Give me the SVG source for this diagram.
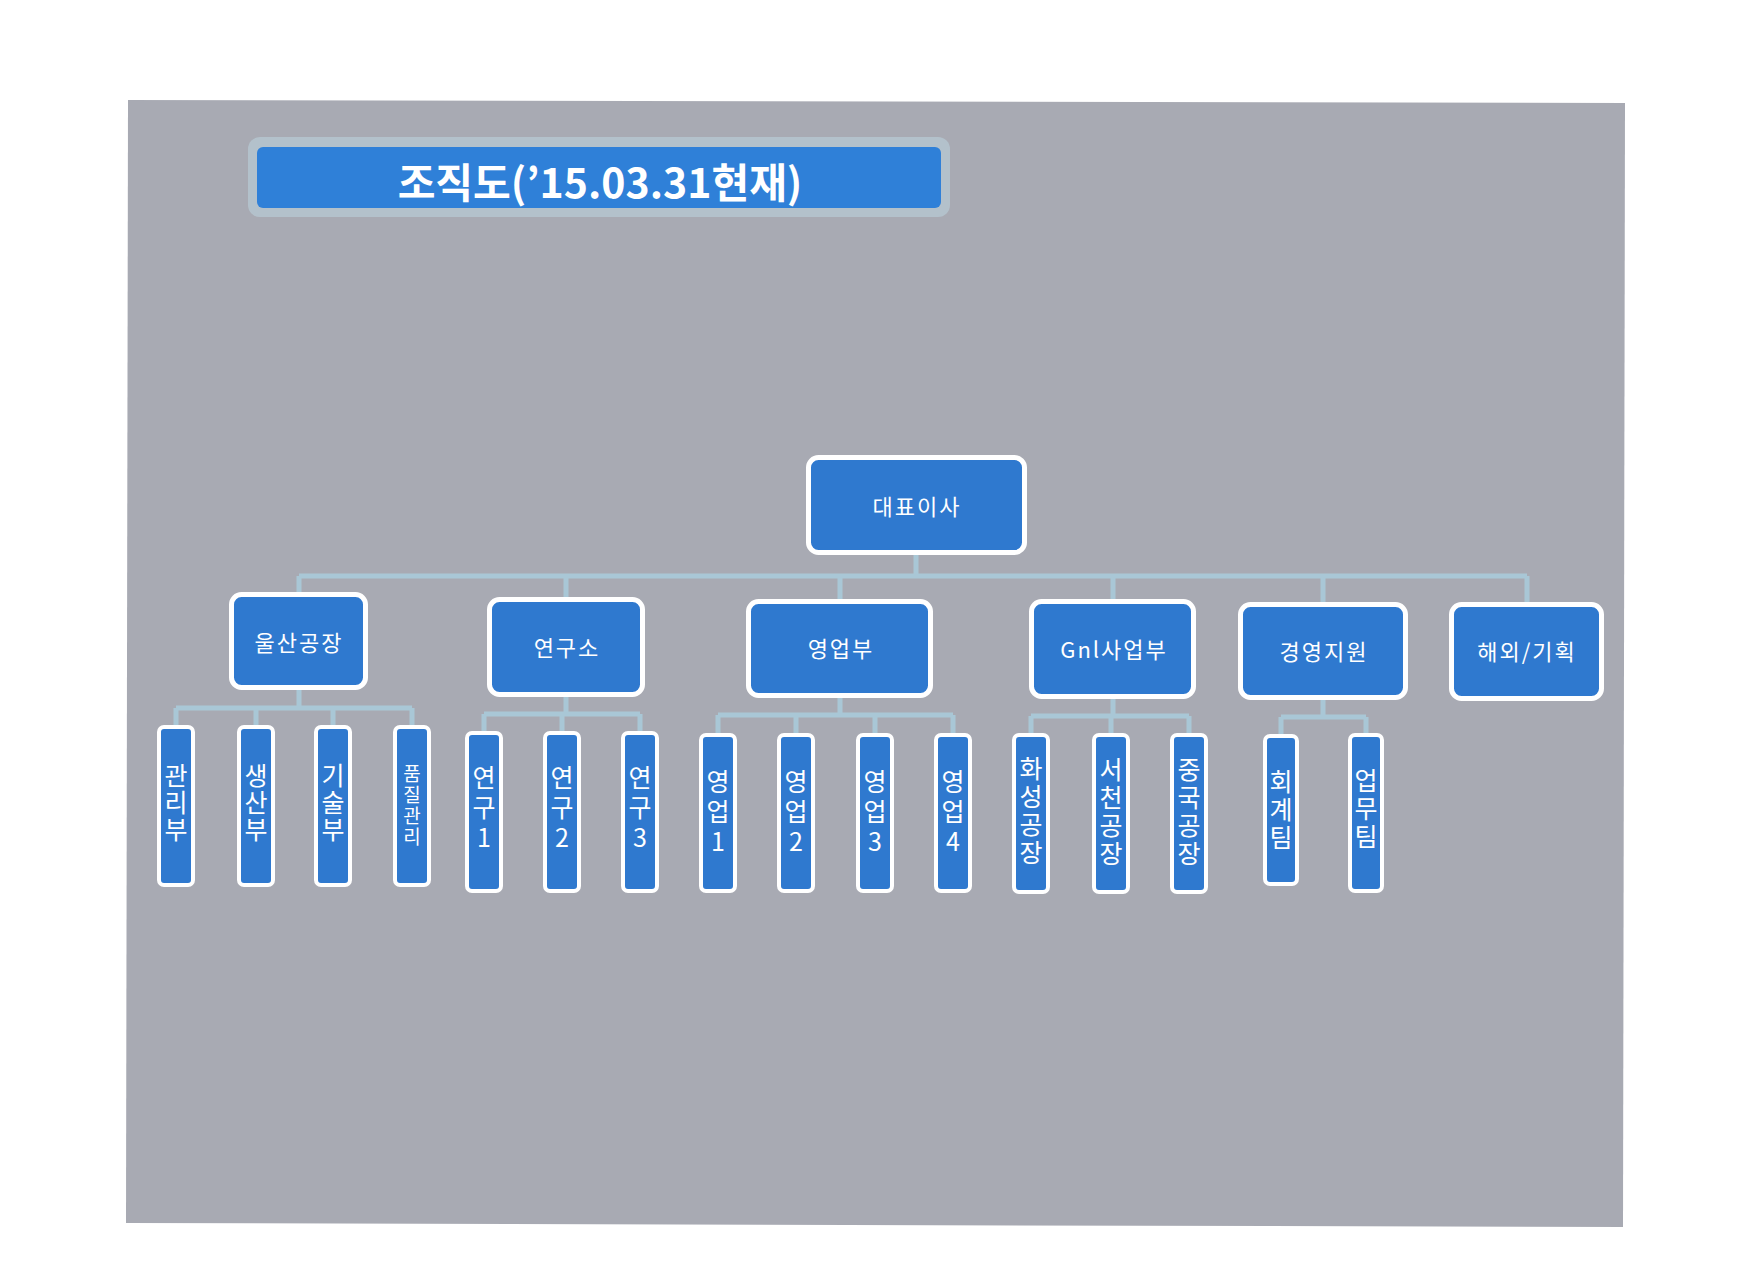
<svg xmlns="http://www.w3.org/2000/svg" width="1753" height="1275" viewBox="0 0 1753 1275">
<style>
.bg{fill:#a8aab3}
.main{fill:#2f79cf;stroke:#ffffff;stroke-width:5}
.sub{fill:#2f79cf;stroke:#ffffff;stroke-width:4}
.lbl{font-family:"Noto Sans CJK KR","Noto Sans",sans-serif;font-size:22px;fill:#ffffff;text-anchor:middle;dominant-baseline:central;letter-spacing:2px}
.vt{font-family:"Noto Sans CJK KR","Noto Sans",sans-serif;font-size:25px;fill:#ffffff;text-anchor:middle;writing-mode:vertical-rl;text-orientation:upright;letter-spacing:2px}
.v3{letter-spacing:3px}
.v4{letter-spacing:5px}
.vs{font-size:19px;letter-spacing:2px}
.conn{fill:none;stroke:#a9c7d6;stroke-width:5}
.title{font-family:"Noto Sans CJK KR","Noto Sans",sans-serif;font-size:41px;font-weight:bold;fill:#ffffff;text-anchor:middle;dominant-baseline:central}
</style>
<rect width="1753" height="1275" fill="#ffffff"/>
<polygon class="bg" points="128,100 1625,103 1623,1227 126,1223"/>
<g id="title">
<rect x="248" y="137" width="702" height="80" rx="12" fill="#b3c1cb"/>
<rect x="257" y="147" width="684" height="61" rx="6" fill="#2f80d8"/>
<text class="title" x="600" y="180">조직도(’15.03.31현재)</text>
</g>
<g id="connectors">
<path class="conn" d="M916 555V576M299 576H1527M299 576V592M566 576V597M840 576V599M1113 576V599M1323 576V602M1527 576V602"/>
<path class="conn" d="M299 690V708M176 708H412M176 708V725M256 708V725M333 708V725M412 708V725"/>
<path class="conn" d="M566 697V714M484 714H640M484 714V731M562 714V731M640 714V731"/>
<path class="conn" d="M840 698V715M718 715H953M718 715V733M796 715V733M875 715V733M953 715V733"/>
<path class="conn" d="M1113 699V716M1031 716H1189M1031 716V733M1111 716V733M1189 716V733"/>
<path class="conn" d="M1323 700V717M1281 717H1366M1281 717V734M1366 717V733"/>
</g>
<g id="n-ceo"><rect class="main" x="808.5" y="457.5" width="216" height="95" rx="10"/><text class="lbl" x="917" y="505">대표이사</text></g>
<g id="n-ulsan"><rect class="main" x="231.5" y="594.5" width="134" height="93" rx="10"/><text class="lbl" x="299" y="641">울산공장</text></g>
<g id="n-lab"><rect class="main" x="489.5" y="599.5" width="153" height="95" rx="10"/><text class="lbl" x="567" y="646">연구소</text></g>
<g id="n-sales"><rect class="main" x="748.5" y="601.5" width="182" height="94" rx="10"/><text class="lbl" x="841" y="647">영업부</text></g>
<g id="n-gnl"><rect class="main" x="1031.5" y="601.5" width="162" height="95" rx="10"/><text class="lbl" x="1114" y="648">Gnl사업부</text></g>
<g id="n-mgmt"><rect class="main" x="1240.5" y="604.5" width="165" height="93" rx="10"/><text class="lbl" x="1324" y="650">경영지원</text></g>
<g id="n-global"><rect class="main" x="1451.5" y="604.5" width="150" height="94" rx="10"/><text class="lbl" x="1527" y="650">해외/기획</text></g>

<g id="n-admin"><rect class="sub" x="159" y="727" width="34" height="158" rx="5"/><text class="vt" x="176" y="803">관리부</text></g>
<g id="n-prod"><rect class="sub" x="239" y="727" width="34" height="158" rx="5"/><text class="vt" x="256" y="803">생산부</text></g>
<g id="n-tech"><rect class="sub" x="316" y="727" width="34" height="158" rx="5"/><text class="vt" x="333" y="803">기술부</text></g>
<g id="n-qc"><rect class="sub" x="395" y="727" width="34" height="158" rx="5"/><text class="vt vs" x="412" y="806">품질관리</text></g>

<g id="n-r1"><rect class="sub" x="467" y="733" width="34" height="158" rx="5"/><text class="vt v4" x="484" y="810">연구1</text></g>
<g id="n-r2"><rect class="sub" x="545" y="733" width="34" height="158" rx="5"/><text class="vt v4" x="562" y="810">연구2</text></g>
<g id="n-r3"><rect class="sub" x="623" y="733" width="34" height="158" rx="5"/><text class="vt v4" x="640" y="810">연구3</text></g>

<g id="n-s1"><rect class="sub" x="701" y="735" width="34" height="156" rx="5"/><text class="vt v4" x="718" y="814">영업1</text></g>
<g id="n-s2"><rect class="sub" x="779" y="735" width="34" height="156" rx="5"/><text class="vt v4" x="796" y="814">영업2</text></g>
<g id="n-s3"><rect class="sub" x="858" y="735" width="34" height="156" rx="5"/><text class="vt v4" x="875" y="814">영업3</text></g>
<g id="n-s4"><rect class="sub" x="936" y="735" width="34" height="156" rx="5"/><text class="vt v4" x="953" y="814">영업4</text></g>

<g id="n-hwaseong"><rect class="sub" x="1014" y="735" width="34" height="157" rx="5"/><text class="vt v3" x="1031" y="812">화성공장</text></g>
<g id="n-seocheon"><rect class="sub" x="1094" y="735" width="34" height="157" rx="5"/><text class="vt v3" x="1111" y="813">서천공장</text></g>
<g id="n-china"><rect class="sub" x="1172" y="735" width="34" height="157" rx="5"/><text class="vt v3" x="1189" y="813">중국공장</text></g>

<g id="n-acct"><rect class="sub" x="1265" y="736" width="32" height="148" rx="5"/><text class="vt v3" x="1281" y="811">회계팀</text></g>
<g id="n-ops"><rect class="sub" x="1350" y="735" width="32" height="156" rx="5"/><text class="vt v3" x="1366" y="810">업무팀</text></g>
</svg>
